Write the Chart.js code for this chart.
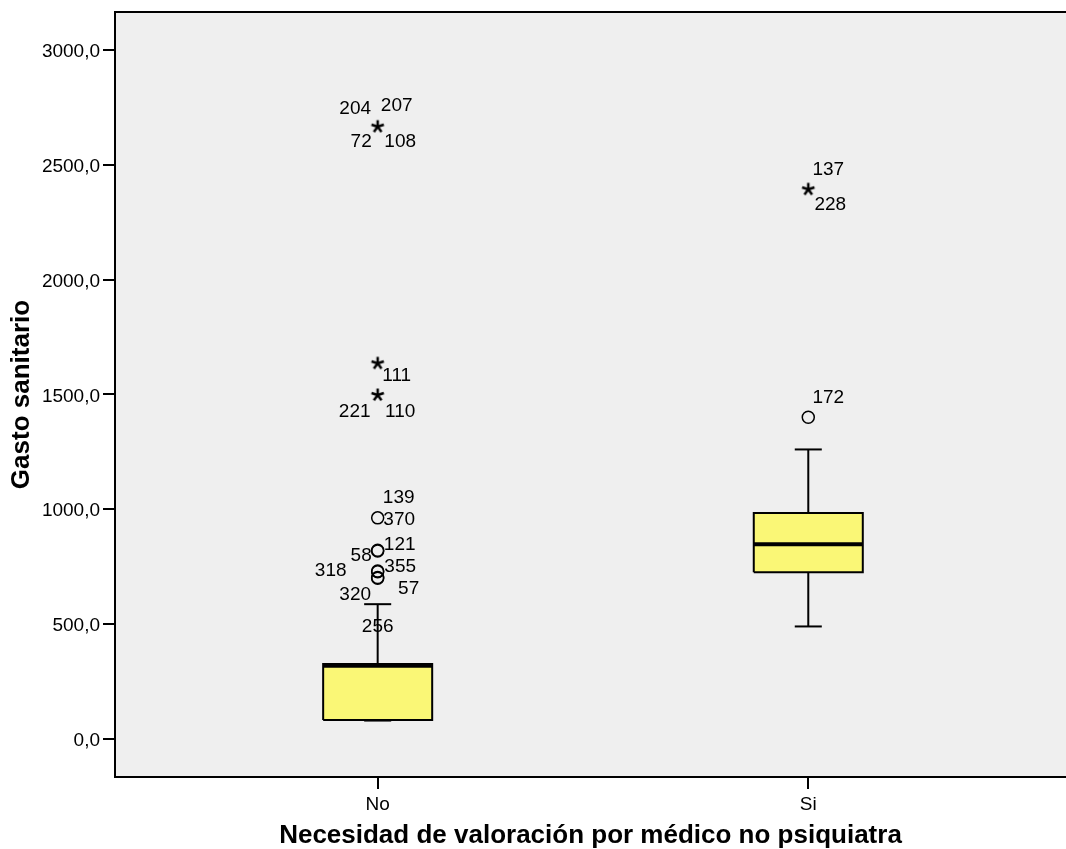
<!DOCTYPE html>
<html>
<head>
<meta charset="utf-8">
<script src="https://cdn.jsdelivr.net/npm/chart.js@4/dist/chart.umd.min.js"></script>
<style>
  html, body { margin: 0; padding: 0; background: #ffffff; }
  canvas { display: block; }
</style>
</head>
<body>
<canvas id="c" width="1066" height="849"></canvas>
<script>
// ---------------- DATA ----------------
const categories = ['No', 'Si'];
const yTickValues = [0, 500, 1000, 1500, 2000, 2500, 3000];

const q1 = [82, 725];
const medians = [318, 847];
const q3 = [325, 983];
const whiskerLow = [79, 489];
const whiskerHigh = [586, 1260];

// outliers (circles) and extremes (asterisks) per category
const outliersNo = [962, 821, 818, 730, 727, 702, 699];
const outliersSi = [1400];
const extremesNo = [2666, 1635, 1497];
const extremesSi = [2393];

// case-number labels next to outliers
const caseLabelText  = ['204','207','72','108','111','221','110','139','370','121','58','355','318','57','320','256','137','228','172'];
const caseLabelGroup = [0,0,0,0,0,0,0,0,0,0,0,0,0,0,0,0,1,1,1];
const caseLabelValue = [2666,2666,2666,2666,1635,1497,1497,962,962,821,821,730,730,702,702,702,2393,2393,1400];

// ---------------- STYLE ----------------
const labelOffsetX = [-22.5,19,-16.5,22.5,19,-23,22.5,21,21.5,22,-16.5,22.5,-47,31,-22.5,0,20,22,20];
const labelOffsetY = [-17.7,-20.7,15,15,12.7,16.7,16.7,-20,1.6,-5,6,-4,0,11.6,17.3,49,-20,15,-20];
const BOX_HALF = 0.1266;
const CAP_HALF = 0.0314;
const FONT = '"Liberation Sans", Arial, sans-serif';
const BOX_FILL = '#faf776';

// asterisk marker image
function makeStar() {
  const c = document.createElement('canvas');
  c.width = 18; c.height = 18;
  const g = c.getContext('2d');
  g.strokeStyle = '#000';
  g.lineWidth = 2.5;
  g.lineCap = 'butt';
  const cx = 9, cy = 9, r = 6.5;
  for (let k = 0; k < 5; k++) {
    const a = (-90 + k * 72) * Math.PI / 180;
    g.beginPath();
    g.moveTo(cx, cy);
    g.lineTo(cx + r * Math.cos(a), cy + r * Math.sin(a));
    g.stroke();
  }
  return c;
}
const starImg = makeStar();

// ---------------- DATASETS ----------------
const datasets = [];
const lineBase = { showLine: true, pointRadius: 0, borderColor: '#000', fill: false, tension: 0 };

categories.forEach((cat, i) => {
  const lowIdx = datasets.length;
  datasets.push(Object.assign({}, lineBase, {
    data: [{x: i - BOX_HALF, y: q1[i]}, {x: i + BOX_HALF, y: q1[i]}],
    borderWidth: 0, order: 10
  }));
  datasets.push(Object.assign({}, lineBase, {
    data: [{x: i - BOX_HALF, y: q3[i]}, {x: i + BOX_HALF, y: q3[i]}],
    borderWidth: 0, fill: lowIdx, backgroundColor: BOX_FILL, order: 9
  }));
  datasets.push(Object.assign({}, lineBase, {
    data: [
      {x: i - BOX_HALF, y: q1[i]}, {x: i + BOX_HALF, y: q1[i]},
      {x: i + BOX_HALF, y: q3[i]}, {x: i - BOX_HALF, y: q3[i]},
      {x: i - BOX_HALF, y: q1[i]}
    ],
    borderWidth: 2, order: 5
  }));
  datasets.push(Object.assign({}, lineBase, {
    data: [{x: i, y: q3[i]}, {x: i, y: whiskerHigh[i]}], borderWidth: 2, order: 6
  }));
  datasets.push(Object.assign({}, lineBase, {
    data: [{x: i, y: q1[i]}, {x: i, y: whiskerLow[i]}], borderWidth: 2, order: 6
  }));
  datasets.push(Object.assign({}, lineBase, {
    data: [{x: i - CAP_HALF, y: whiskerHigh[i]}, {x: i + CAP_HALF, y: whiskerHigh[i]}], borderWidth: 2, order: 6
  }));
  datasets.push(Object.assign({}, lineBase, {
    data: [{x: i - CAP_HALF, y: whiskerLow[i]}, {x: i + CAP_HALF, y: whiskerLow[i]}], borderWidth: 2, order: 6
  }));
  datasets.push(Object.assign({}, lineBase, {
    data: [{x: i - BOX_HALF, y: medians[i]}, {x: i + BOX_HALF, y: medians[i]}], borderWidth: 4, order: 4
  }));
});

const outliers = [outliersNo, outliersSi];
const extremes = [extremesNo, extremesSi];
datasets.push({
  showLine: false,
  data: outliers.flatMap((arr, i) => arr.map(v => ({x: i, y: v}))),
  pointStyle: 'circle', pointRadius: 6, borderWidth: 1.5,
  pointBorderColor: '#000', pointBackgroundColor: 'rgba(0,0,0,0)', order: 1
});
datasets.push({
  showLine: false,
  data: extremes.flatMap((arr, i) => arr.map(v => ({x: i, y: v}))),
  pointStyle: starImg, pointRadius: 9, order: 1
});

// ---------------- PLUGINS ----------------
const bgPlugin = {
  id: 'bg',
  beforeDraw(chart) {
    const {ctx, chartArea: a} = chart;
    ctx.save();
    ctx.fillStyle = '#ffffff';
    ctx.fillRect(0, 0, chart.width, chart.height);
    ctx.fillStyle = '#efefef';
    ctx.fillRect(a.left, a.top, a.right - a.left, a.bottom - a.top);
    ctx.restore();
  },
  afterDraw(chart) {
    const {ctx, chartArea: a} = chart;
    ctx.save();
    ctx.strokeStyle = '#000';
    ctx.lineWidth = 2;
    ctx.beginPath();
    ctx.moveTo(a.left - 1, a.top);
    ctx.lineTo(a.right, a.top);
    ctx.stroke();
    ctx.restore();
  }
};

const caseLabelPlugin = {
  id: 'caseLabels',
  afterDatasetsDraw(chart) {
    const {ctx} = chart;
    const xs = chart.scales.x, ys = chart.scales.y;
    ctx.save();
    ctx.fillStyle = '#000';
    ctx.font = '19px ' + FONT;
    ctx.textAlign = 'center';
    ctx.textBaseline = 'middle';
    caseLabelText.forEach((t, k) => {
      const px = xs.getPixelForValue(caseLabelGroup[k]) + labelOffsetX[k];
      const py = ys.getPixelForValue(caseLabelValue[k]) + labelOffsetY[k];
      ctx.fillText(t, px, py);
    });
    ctx.restore();
  }
};

// ---------------- CHART ----------------
new Chart(document.getElementById('c'), {
  type: 'line',
  data: { datasets },
  options: {
    responsive: false,
    devicePixelRatio: 1,
    animation: false,
    events: [],
    layout: { autoPadding: false, padding: { top: 12, right: 0, bottom: 0, left: 0 } },
    plugins: { legend: { display: false }, tooltip: { enabled: false } },
    scales: {
      x: {
        type: 'linear',
        min: -0.610,
        max: 1.5985,
        afterFit(s) { s.height = 72; s.paddingLeft = 0; s.paddingRight = 0; },
        afterBuildTicks(s) { s.ticks = categories.map((c, i) => ({value: i})); },
        ticks: {
          callback: v => categories[Math.round(v)],
          color: '#000',
          font: { family: FONT, size: 19 },
          padding: 4,
          maxRotation: 0,
          autoSkip: false
        },
        grid: { drawOnChartArea: false, drawTicks: true, tickLength: 12, color: '#000', lineWidth: 2 },
        border: { display: true, color: '#000', width: 2 },
        title: {
          display: true,
          text: 'Necesidad de valoración por médico no psiquiatra',
          color: '#000',
          font: { family: FONT, size: 26, weight: 'bold', lineHeight: 1 },
          padding: { top: 0, bottom: 0 }
        }
      },
      y: {
        type: 'linear',
        min: -166.8,
        max: 3165.5,
        afterFit(s) { s.width = 115; s.paddingTop = 0; s.paddingBottom = 0; },
        afterBuildTicks(s) { s.ticks = yTickValues.map(v => ({value: v})); },
        ticks: {
          callback: v => v.toFixed(1).replace('.', ','),
          color: '#000',
          font: { family: FONT, size: 19 },
          padding: 3,
          labelOffset: 2
        },
        grid: { drawOnChartArea: false, drawTicks: true, tickLength: 12, color: '#000', lineWidth: 2 },
        border: { display: true, color: '#000', width: 2 },
        title: {
          display: true,
          text: 'Gasto sanitario',
          color: '#000',
          font: { family: FONT, size: 26, weight: 'bold', lineHeight: 1 },
          padding: { top: 9, bottom: 0 }
        }
      }
    }
  },
  plugins: [bgPlugin, caseLabelPlugin]
});
</script>
</body>
</html>
